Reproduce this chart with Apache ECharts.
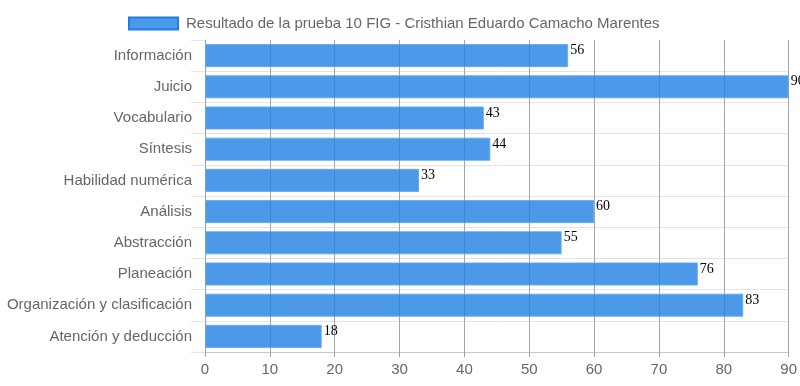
<!DOCTYPE html>
<html><head><meta charset="utf-8">
<script src="https://cdn.jsdelivr.net/npm/echarts@6/dist/echarts.min.js"></script>
<style>html,body{margin:0;padding:0;background:#fff}#c{width:800px;height:386px}</style>
</head><body><div id="c"></div>
<script>
var categories = ['Información','Juicio','Vocabulario','Síntesis','Habilidad numérica','Análisis','Abstracción','Planeación','Organización y clasificación','Atención y deducción'];
var values = [56, 90, 43, 44, 33, 60, 55, 76, 83, 18];
var seriesName = 'Resultado de la prueba 10 FIG - Cristhian Eduardo Camacho Marentes';
var xTicks = [0, 10, 20, 30, 40, 50, 60, 70, 80, 90];

var chart = echarts.init(document.getElementById('c'));
chart.setOption({
  animation: false,
  textStyle: {fontFamily: 'Liberation Sans, Arial, sans-serif'},
  legend: {
    top: 11, left: 123,
    itemWidth: 49, itemHeight: 12, itemGap: 10,
    icon: 'rect',
    textStyle: {fontSize: 15, color: '#666', padding: [0, 0, 0, 3]},
    data: [{name: seriesName, itemStyle: {color: 'rgba(30,127,226,0.8)', borderColor: '#1e7fe2', borderWidth: 2}}]
  },
  grid: {left: 205, right: 11, top: 40, bottom: 34, containLabel: false},
  xAxis: {
    type: 'value', min: xTicks[0], max: xTicks[xTicks.length - 1], interval: 10,
    axisLine: {show: true, lineStyle: {color: '#c9c9c9'}},
    axisTick: {show: true, length: 5, lineStyle: {color: '#a0a0a0'}},
    axisLabel: {color: '#666', fontSize: 15, margin: 10, fontFamily: 'Liberation Sans, Arial, sans-serif'},
    splitLine: {show: true, showMinLine: false, lineStyle: {color: '#a6a6a6'}}
  },
  yAxis: {
    type: 'category', inverse: true, data: categories,
    axisLine: {show: true, lineStyle: {color: '#a0a0a0'}},
    axisTick: {show: true, length: 14, lineStyle: {color: '#e4e4e4'}},
    axisLabel: {color: '#666', fontSize: 15, margin: 13, fontFamily: 'Liberation Sans, Arial, sans-serif'},
    splitLine: {show: true, showMinLine: false, lineStyle: {color: '#e4e4e4'}}
  },
  series: [{
    name: seriesName, type: 'bar', data: values,
    barCategoryGap: '26%',
    z: 1,
    itemStyle: {color: 'rgba(30,127,226,0.8)', borderColor: 'rgba(100,170,240,0.9)', borderWidth: 1},
    label: {show: true, position: 'right', distance: 2, offset: [0, -5], color: '#000', fontSize: 14, fontFamily: 'Liberation Serif, Times New Roman, serif'}
  }]
});
</script></body></html>
